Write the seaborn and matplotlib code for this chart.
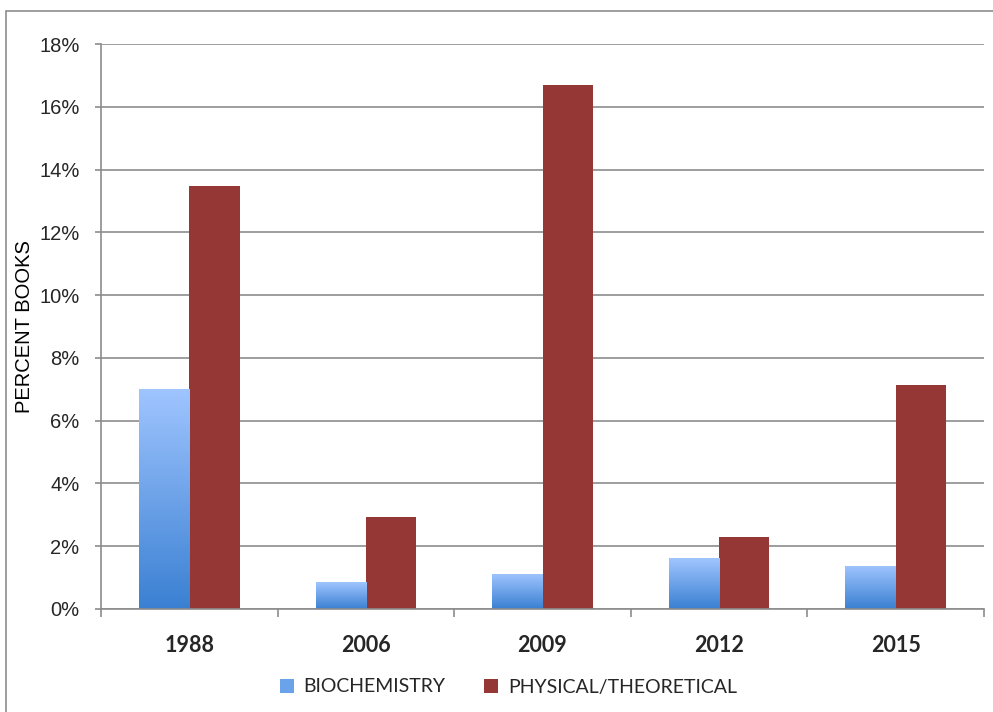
import numpy as np
import pandas as pd
import matplotlib
matplotlib.use("Agg")
import matplotlib.pyplot as plt
from matplotlib.colors import LinearSegmentedColormap
from matplotlib.patches import Rectangle
import seaborn as sns

years = ["1988", "2006", "2009", "2012", "2015"]
biochemistry = [7.02, 0.86, 1.12, 1.62, 1.37]
physical_theoretical = [13.48, 2.93, 16.70, 2.29, 7.13]
series_names = ["BIOCHEMISTRY", "PHYSICAL/THEORETICAL"]
y_ticks = [0, 2, 4, 6, 8, 10, 12, 14, 16, 18]

df = pd.DataFrame({
    "year": years * 2,
    "value": biochemistry + physical_theoretical,
    "series": [series_names[0]] * len(years) + [series_names[1]] * len(years),
})

sns.set_theme(style="white")
plt.rcParams["font.family"] = ["Liberation Sans", "DejaVu Sans"]

blue_top = "#a0c5ff"
blue_bottom = "#3a80d2"
red = "#953735"
grid_col = "#8c8c8c"

fig = plt.figure(figsize=(9.93, 7.12), dpi=100)
ax = fig.add_axes([101 / 993, 1 - 609 / 712, (984 - 101) / 993, (609 - 44) / 712])

sns.barplot(data=df, x="year", y="value", hue="series", order=years,
            hue_order=series_names, palette=[blue_bottom, red],
            width=0.57, ax=ax, legend=False, saturation=1, linewidth=0)

ax.set_xlim(-0.5, len(years) - 0.5)
ax.set_ylim(0, 18)

# vertical gradient fill for the biochemistry bars
grad_cmap = LinearSegmentedColormap.from_list("bio", [blue_bottom, blue_top])
grad = np.linspace(0, 1, 256).reshape(-1, 1)
for bar in ax.containers[0]:
    x0, y0 = bar.get_x(), bar.get_y()
    w, h = bar.get_width(), bar.get_height()
    img = ax.imshow(grad, cmap=grad_cmap, origin="lower", aspect="auto",
                    extent=[x0, x0 + w, y0, y0 + h], zorder=bar.get_zorder(),
                    interpolation="bicubic")
    img.set_clip_path(bar)
    bar.set_facecolor("none")
for bar in ax.containers[1]:
    bar.set_edgecolor("none")
ax.set_xlim(-0.5, len(years) - 0.5)
ax.set_ylim(0, 18)

# gridlines and axis styling
ax.set_yticks(y_ticks)
ax.set_yticklabels([f"{v}%" for v in y_ticks])
for v in y_ticks:
    ax.axhline(v, color=grid_col, lw=1.2, zorder=0)
ax.set_xticks(np.arange(-0.5, len(years)), minor=True)
ax.tick_params(axis="x", which="minor", length=6, width=1.2, color=grid_col, direction="out", bottom=True)
ax.tick_params(axis="x", which="major", length=0, pad=19)
ax.tick_params(axis="y", length=4.5, width=1.2, color=grid_col, direction="out", left=True,
               labelsize=14.5, pad=11)
for lbl in ax.get_xticklabels():
    lbl.set_fontfamily(["Lato", "DejaVu Sans"])
    lbl.set_fontweight("bold")
    lbl.set_fontsize(15.5)

for side in ["top", "right"]:
    ax.spines[side].set_visible(False)
ax.spines["left"].set_color(grid_col)
ax.spines["left"].set_linewidth(1.2)
ax.spines["bottom"].set_color(grid_col)
ax.spines["bottom"].set_linewidth(1.2)

ax.set_xlabel("")
ax.set_ylabel("PERCENT BOOKS", fontsize=14.5, color="black")
ax.yaxis.set_label_coords(-0.076, 0.5)

# legend
handles = [
    Rectangle((0, 0), 1, 1, facecolor="#6aa3ea", edgecolor="none"),
    Rectangle((0, 0), 1, 1, facecolor=red, edgecolor="none"),
]
fig.legend(handles, series_names, loc="center", bbox_to_anchor=(0.5 + 12 / 993, 1 - 687 / 712),
           ncol=2, frameon=False, handlelength=0.7, handleheight=0.7,
           columnspacing=2.0, handletextpad=0.5,
           prop={"family": ["Lato", "DejaVu Sans"], "size": 14})

# chart frame
fig.patches.append(Rectangle((6 / 993, -0.01), 1.1, 1 - 11 / 712 + 0.01,
                             transform=fig.transFigure, fill=False,
                             edgecolor="#8c8c8c", lw=1.2))

fig.savefig("out.png", dpi=100)
